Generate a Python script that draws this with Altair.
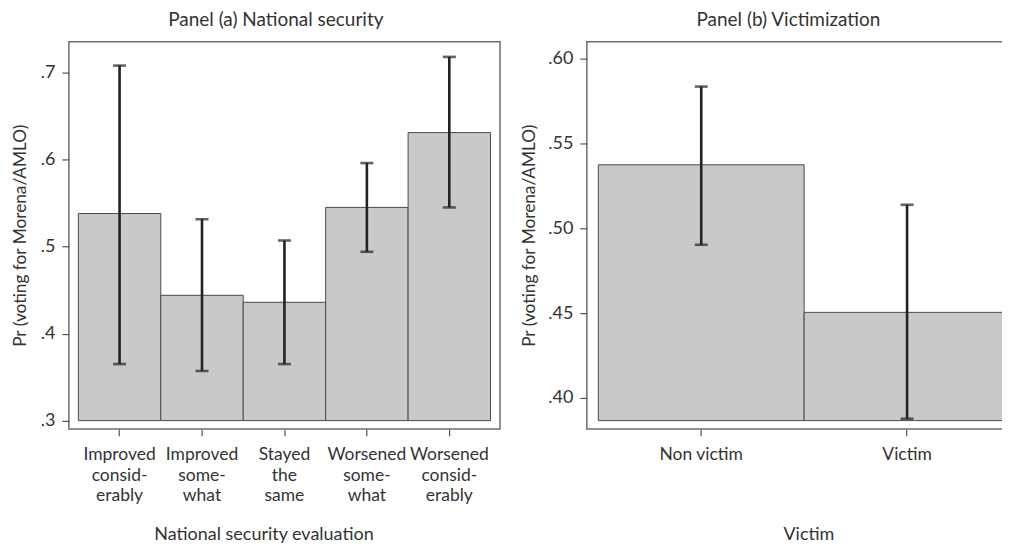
import altair as alt
import pandas as pd

# ---- data ----
cats_a = ["Improved|consid-|erably", "Improved|some-|what", "Stayed|the|same",
          "Worsened|some-|what", "Worsened|consid-|erably"]
vals_a = [0.538, 0.444, 0.436, 0.545, 0.631]
lo_a = [0.365, 0.357, 0.365, 0.494, 0.545]
hi_a = [0.708, 0.5315, 0.507, 0.596, 0.718]
base_a = 0.30
ticks_a = [0.3, 0.4, 0.5, 0.6, 0.7]

cats_b = ["Non victim", "Victim"]
vals_b = [0.5375, 0.4504]
lo_b = [0.4903, 0.3876]
hi_b = [0.5837, 0.5139]
base_b = 0.3865
ticks_b = [0.40, 0.45, 0.50, 0.55, 0.60]

FONT = "Lato"
TXT = "#333333"
YTITLE = "Pr (voting for Morena/AMLO)"

H = 388
WA = 432
WB = 424


def panel(cats, vals, lo, hi, base, ticks, ydom, fmt, title, xtitle, width,
          xscale, title_dx, xtitle_x, ytitle_x):
    df = pd.DataFrame({"cat": cats, "val": vals, "lo": lo, "hi": hi,
                       "base": [base] * len(cats)})
    xs = alt.Scale(domain=cats, **xscale)
    ys = alt.Scale(domain=ydom, nice=False, zero=False)
    xaxis = alt.Axis(
        title=xtitle, labelAngle=0, domain=False, grid=False,
        ticks=True, tickSize=7, tickColor="#555555", tickWidth=1.2,
        labelFont=FONT, labelFontSize=17.5, labelColor=TXT, labelPadding=10,
        labelLineHeight=20.5, labelExpr="split(datum.label, '|')",
        titleFont=FONT, titleFontSize=18, titleFontWeight="normal",
        titleColor=TXT, titleX=xtitle_x, titleY=111,
        titleBaseline="alphabetic", titleAlign="center",
    )
    yaxis = alt.Axis(
        title=YTITLE, values=ticks, domain=False, grid=False,
        labelExpr="substring(format(datum.value, '" + fmt + "'), 1)",
        tickSize=7, tickColor="#555555", tickWidth=1.2,
        labelFont=FONT, labelFontSize=18, labelColor=TXT, labelPadding=7,
        titleFont=FONT, titleFontSize=17.3, titleFontWeight="normal",
        titleColor=TXT, titleX=ytitle_x, titleY=H / 2,
        titleBaseline="middle", titleAlign="center", titleAngle=270,
    )
    X = alt.X("cat:N", sort=cats, scale=xs, axis=xaxis)
    base_ch = alt.Chart(df)
    bars = base_ch.mark_bar(fill="#c8c9cb", stroke="#4a4a4a", strokeWidth=1).encode(
        x=X,
        y=alt.Y("val:Q", scale=ys, axis=yaxis),
        y2="base:Q",
    )
    rule = base_ch.mark_rule(color="#222222", strokeWidth=2.6).encode(
        x=X,
        y=alt.Y("lo:Q", scale=ys, axis=yaxis),
        y2="hi:Q",
    )
    cap_lo = base_ch.mark_tick(color="#222222", thickness=2.6, size=13).encode(
        x=X,
        y=alt.Y("lo:Q", scale=ys, axis=yaxis),
    )
    cap_hi = base_ch.mark_tick(color="#222222", thickness=2.6, size=13).encode(
        x=X,
        y=alt.Y("hi:Q", scale=ys, axis=yaxis),
    )
    return alt.layer(bars, rule, cap_lo, cap_hi).properties(
        width=width, height=H,
        title=alt.TitleParams(title, font=FONT, fontSize=19, fontWeight="normal",
                              color=TXT, anchor="middle", frame="group",
                              dx=title_dx, offset=11.2),
    )


pa = panel(cats_a, vals_a, lo_a, hi_a, base_a, ticks_a, [0.2905, 0.7355], ".1f",
           "Panel (a) National security", "National security evaluation", WA,
           dict(paddingInner=0, paddingOuter=0.115), -8.6, 195, -48)
pb = panel(cats_b, vals_b, lo_b, hi_b, base_b, ticks_b, [0.3816, 0.6102], ".2f",
           "Panel (b) Victimization", "Victim", WB,
           dict(paddingInner=0, paddingOuter=0.0279, align=1), -10, 222, -57)

chart = alt.hconcat(pa, pb, spacing=19).properties(
    padding={"left": 3, "top": 2.2, "right": -10, "bottom": 0}
).configure_view(stroke="#6e6e6e", strokeWidth=1.5)

chart.save("out.html", embed_options={"renderer": "svg", "actions": False})
